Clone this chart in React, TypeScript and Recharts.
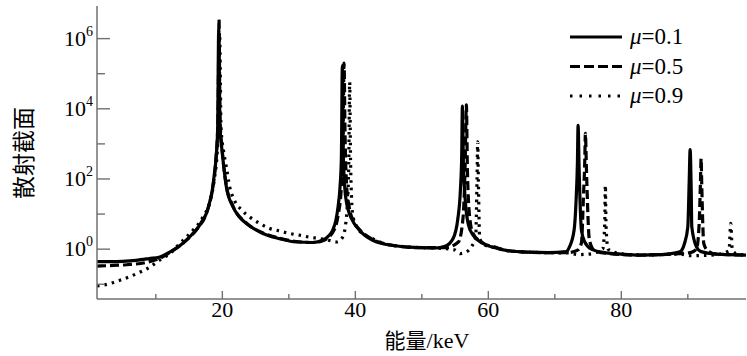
import React from "react";
import { LineChart, Line, XAxis, YAxis } from "recharts";

// energy (keV), cross section
const mu01Points: [number, number][] = [
  [1.15, 0.44], [3, 0.44], [5, 0.45], [7, 0.48], [9, 0.54], [10.6, 0.6], [11.5, 0.72],
  [12.6, 0.94], [13.6, 1.25], [14.6, 1.8], [15.5, 2.7], [16.3, 4.0], [17.0, 6.5], [17.6, 10.5],
  [18.1, 22], [18.5, 50], [18.8, 140], [19.1, 500], [19.3, 3000], [19.45, 1.7e6], [19.65, 3000],
  [19.9, 800], [20.1, 350], [20.6, 60], [21.6, 16], [22.5, 8.5], [23.6, 5.4], [24.8, 3.8],
  [26.1, 2.8], [28.6, 2.0], [31.1, 1.6], [33.6, 1.55], [35.1, 1.8], [36.0, 2.4], [36.6, 3.5],
  [37.1, 7], [37.4, 16], [37.7, 60], [37.9, 400], [38.05, 1.7e5], [38.2, 400], [38.4, 60],
  [38.7, 20], [39.1, 10.4], [39.8, 5.5], [40.6, 3.5], [41.5, 2.4], [42.6, 1.8], [44, 1.45],
  [46, 1.25], [48, 1.15], [50, 1.1], [52, 1.08], [53.5, 1.2], [54.7, 2.0], [55.4, 7],
  [55.8, 48], [56.0, 500], [56.1, 1.2e4], [56.25, 300], [56.5, 30], [57, 5], [57.7, 2.5],
  [59.2, 1.45], [61, 1.1], [63, 0.9], [66, 0.82], [69, 0.8], [71.7, 0.85], [72.2, 1.16],
  [72.9, 3.5], [73.2, 25], [73.4, 300], [73.5, 3400], [73.65, 200], [74.0, 3.5], [74.5, 1.6],
  [75.5, 1.0], [77.7, 0.78], [80, 0.72], [82.8, 0.68], [86, 0.7], [88.8, 0.84], [89.5, 1.45],
  [90.0, 4.3], [90.2, 74], [90.35, 690], [90.5, 60], [90.6, 4.3], [91.3, 1.16], [92, 0.85],
  [94.3, 0.72], [96, 0.7], [98.75, 0.68],
];

const mu05Points: [number, number][] = [
  [1.15, 0.33], [3, 0.34], [5.6, 0.36], [8.6, 0.42], [10.6, 0.55], [12.6, 0.92], [14.6, 1.8],
  [16.3, 4.0], [17.6, 10.5], [18.5, 50], [19.0, 300], [19.35, 5000], [19.5, 3.5e6], [19.65, 5000],
  [20.0, 600], [20.6, 65], [21.6, 17], [23.6, 5.6], [26.1, 2.9], [28.6, 2.05], [31.1, 1.65],
  [33.6, 1.55], [35.1, 1.75], [36.6, 3.0], [37.4, 9], [37.9, 60], [38.15, 2000], [38.3, 2e5],
  [38.45, 2000], [38.7, 60], [39.1, 15], [39.8, 6], [40.6, 3.7], [42.6, 1.9], [44, 1.5],
  [46, 1.25], [50, 1.1], [53.5, 1.1], [55.5, 1.6], [56.2, 8], [56.5, 200], [56.7, 1.3e4],
  [56.85, 200], [57.2, 8], [57.7, 2.8], [59.2, 1.5], [61, 1.15], [63, 0.9], [68, 0.8],
  [72, 0.8], [73.5, 0.95], [74.0, 1.5], [74.3, 30], [74.5, 300], [74.6, 2000], [74.75, 200],
  [75.2, 1.8], [76, 0.9], [78, 0.76], [82.8, 0.68], [88.8, 0.75], [90.4, 0.8], [91.3, 1.0],
  [91.7, 5], [91.9, 80], [92.0, 380], [92.1, 60], [92.4, 1.45], [93, 0.9], [94.3, 0.72],
  [98.75, 0.68],
];

const mu09Points: [number, number][] = [
  [1.15, 0.09], [2.05, 0.094], [4.6, 0.13], [7.1, 0.2], [9.1, 0.31], [10.6, 0.49], [12.1, 0.75],
  [13.6, 1.45], [15.6, 3.5], [17.1, 8.3], [18.1, 22], [18.8, 100], [19.3, 1000], [19.6, 1.2e6],
  [19.8, 3000], [20.2, 600], [20.6, 220], [21.1, 60], [21.8, 25], [22.9, 13], [24.1, 8.3],
  [25.6, 5.4], [27.1, 3.9], [28.6, 3.3], [30.1, 2.8], [31.6, 2.5], [33.1, 2.2], [34.6, 2.0],
  [36, 1.8], [37.2, 1.6], [38.1, 2.2], [38.7, 10], [39.0, 200], [39.15, 5.7e4], [39.3, 200],
  [39.6, 10], [40.2, 4.3], [41.1, 2.8], [42.6, 2.0], [44, 1.5], [46, 1.25], [50, 1.1],
  [53, 1.05], [55, 0.95], [55.8, 0.75], [56.5, 0.8], [57.5, 1.2], [58.1, 2.2], [58.3, 100],
  [58.4, 1140], [58.5, 100], [58.7, 2.0], [59.5, 1.3], [61, 1.1], [63, 0.9], [68, 0.8],
  [72, 0.78], [73.5, 0.7], [75, 0.72], [77.2, 1.0], [77.5, 5], [77.6, 66], [77.7, 5],
  [78, 1.0], [80, 0.74], [83, 0.68], [88.8, 0.72], [90.4, 0.65], [92, 0.66], [94.3, 0.7],
  [96.2, 0.9], [96.45, 5.4], [96.7, 0.9], [97.5, 0.72], [98.75, 0.68],
];

const seriesNames = ["0.1", "0.5", "0.9"];
const xTicks = [10, 20, 30, 40, 50, 60, 70, 80, 90];
const xTickLabels = [20, 40, 60, 80];
const yTicks = [0.1, 1, 10, 100, 1e3, 1e4, 1e5, 1e6];
const yLabelExponents = [0, 2, 4, 6];

const X_DOMAIN: [number, number] = [1.15, 98.75];
const Y_DOMAIN: [number, number] = [0.038, 8.5e6];

const AXIS_COLOR = "#707070";
const SERIF = "'Liberation Serif', 'DejaVu Serif', serif";
const CJK = "'Noto Sans CJK SC', 'Noto Sans CJK JP', sans-serif";
const serifText = { fontFamily: SERIF };
const cjkText = { fontFamily: CJK };

const toRows = (pts: [number, number][]) => pts.map(([energy, sigma]) => ({ energy, sigma }));

const STYLES = [
  { data: toRows(mu01Points), dash: undefined, legendDash: undefined },
  { data: toRows(mu05Points), dash: "9 4", legendDash: "10 4" },
  { data: toRows(mu09Points), dash: "2.5 5", legendDash: "2.5 7" },
];

function BottomTick({ x, y, payload }: any) {
  const v = payload.value;
  const labelled = xTickLabels.includes(v);
  const len = labelled ? 8 : 5;
  return (
    <g>
      <line x1={x} x2={x} y1={y} y2={y - len} stroke={AXIS_COLOR} strokeWidth={1.4} />
      {labelled && (
        <text x={x} y={y + 18} textAnchor="middle" style={serifText} fontSize={22} fill="#000">
          {v}
        </text>
      )}
    </g>
  );
}

function TopTick({ x, y, payload }: any) {
  const len = xTickLabels.includes(payload.value) ? 8 : 6;
  return <line x1={x} x2={x} y1={y} y2={y + len} stroke={AXIS_COLOR} strokeWidth={1.4} />;
}

function LeftTick({ x, y, payload }: any) {
  const exp = Math.round(Math.log10(payload.value));
  const labelled = yLabelExponents.includes(exp);
  const len = labelled ? 13 : 8;
  return (
    <g>
      <line x1={x} x2={x + len} y1={y} y2={y} stroke={AXIS_COLOR} strokeWidth={1.4} />
      {labelled && (
        <text x={x - 4} y={y + 7} textAnchor="end" style={serifText} fontSize={22} fill="#000">
          10
          <tspan dy={-10} fontSize={14}>
            {exp}
          </tspan>
        </text>
      )}
    </g>
  );
}

function RightTick({ x, y, payload }: any) {
  const exp = Math.round(Math.log10(payload.value));
  const len = yLabelExponents.includes(exp) ? 13 : 8;
  return <line x1={x} x2={x - len} y1={y} y2={y} stroke={AXIS_COLOR} strokeWidth={1.4} />;
}

export default function App() {
  const axisLine = { stroke: AXIS_COLOR, strokeWidth: 1.5 };
  return (
    <div style={{ position: "absolute", left: 0, top: 0, width: 747, height: 356, background: "#fff" }}>
      <LineChart width={747} height={356} margin={{ top: 6, right: 1, bottom: 0, left: 0 }}>
        <XAxis
          dataKey="energy"
          type="number"
          domain={X_DOMAIN}
          allowDataOverflow
          ticks={xTicks}
          interval={0}
          height={57}
          tickSize={0}
          tickMargin={0}
          tick={<BottomTick />}
          axisLine={axisLine}
          tickLine={false}
        />
        <XAxis
          xAxisId="top"
          orientation="top"
          dataKey="energy"
          type="number"
          domain={X_DOMAIN}
          allowDataOverflow
          ticks={xTicks}
          interval={0}
          height={0}
          tickSize={0}
          tickMargin={0}
          tick={<TopTick />}
          axisLine={axisLine}
          tickLine={false}
        />
        <YAxis
          scale="log"
          type="number"
          domain={Y_DOMAIN}
          allowDataOverflow
          ticks={yTicks}
          interval={0}
          width={97}
          tickSize={0}
          tickMargin={0}
          tick={<LeftTick />}
          axisLine={axisLine}
          tickLine={false}
        />
        <YAxis
          yAxisId="right"
          orientation="right"
          scale="log"
          type="number"
          domain={Y_DOMAIN}
          allowDataOverflow
          ticks={yTicks}
          interval={0}
          width={0}
          tickSize={0}
          tickMargin={0}
          tick={<RightTick />}
          axisLine={axisLine}
          tickLine={false}
        />
        {STYLES.map((s, i) => (
          <Line
            key={seriesNames[i]}
            data={s.data}
            dataKey="sigma"
            type="monotone"
            stroke="#000"
            strokeWidth={3.2}
            strokeDasharray={s.dash}
            dot={false}
            activeDot={false}
            isAnimationActive={false}
          />
        ))}
      </LineChart>
      <svg
        width={747}
        height={356}
        style={{ position: "absolute", left: 0, top: 0, pointerEvents: "none" }}
      >
        <text
          x={22}
          y={153}
          transform="rotate(-90, 22, 153)"
          textAnchor="middle"
          dominantBaseline="central"
          style={cjkText}
          fontSize={23}
          fill="#000"
        >
          散射截面
        </text>
        <text x={427} y={348} textAnchor="middle" fontSize={21} fill="#000">
          <tspan style={cjkText}>能量</tspan>
          <tspan style={serifText} fontSize={22}>/keV</tspan>
        </text>
        {seriesNames.map((name, i) => {
          const cy = 37 + i * 29.5;
          return (
            <g key={name}>
              <line
                x1={570}
                x2={622}
                y1={cy}
                y2={cy}
                stroke="#000"
                strokeWidth={3}
                strokeDasharray={STYLES[i].legendDash}
              />
              <text x={630} y={cy + 7} style={serifText} fontSize={23} fill="#000">
                <tspan fontStyle="italic">μ</tspan>={name}
              </text>
            </g>
          );
        })}
      </svg>
    </div>
  );
}
